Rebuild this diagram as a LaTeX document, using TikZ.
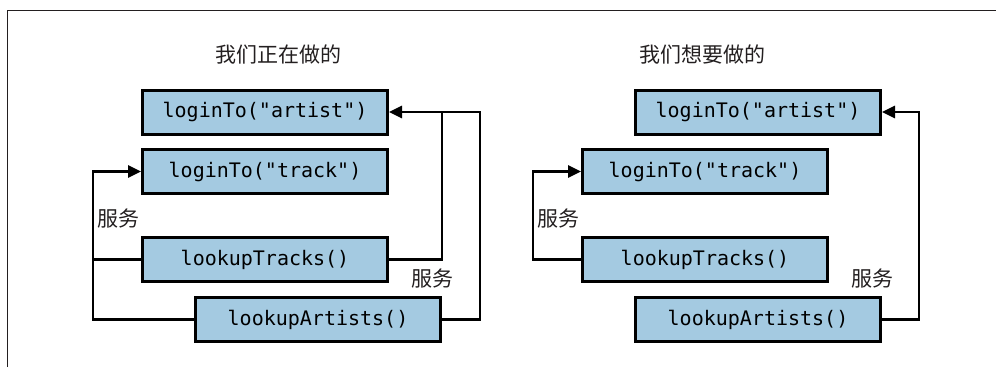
\documentclass[tikz,border=0pt]{standalone}
\usepackage{fontspec}
\setmonofont{DejaVu Sans Mono}
\newfontfamily\cjk{Noto Sans CJK SC}
\usepackage{xcolor}
\usetikzlibrary{calc,arrows.meta,positioning}
\definecolor{boxblue}{RGB}{164,202,225}
\definecolor{inkgray}{RGB}{35,31,32}

\begin{document}
\begin{tikzpicture}[x=1pt,y=1pt,
    call/.style={draw=black,line width=3pt,fill=boxblue,minimum width=245pt,minimum height=44pt,inner sep=0pt,font=\ttfamily\fontsize{20}{20}\selectfont},
    note/.style={inner sep=0pt,text=inkgray,font=\cjk\fontsize{21}{21}\selectfont},
    wire/.style={line width=2.6pt},
    hook/.style={wire,-{Triangle[length=13pt,width=12pt]}}]
        \useasboundingbox (0,0) rectangle (996,-367);

        %frame
        \draw[inkgray,line width=1pt] (7,-367) -- (7,-10) -- (996,-10);

        %left: what we do now
        \node[note] (nowtitle) at (278,-55) {我们正在做的};
        \node[call] (nowartist) at (265,-112) {loginTo("artist")};
        \node[call,below = 12.5pt of nowartist] (nowtrack) {loginTo("track")};
        \node[call,below = 41pt of nowtrack] (nowtracks) {lookupTracks()};
        \node[call,below = 13pt of nowtracks,xshift=53pt] (nowartists) {lookupArtists()};

        \node[note,above left = 8pt and 1pt of nowtracks.north west] (nowsvcl) {服务};
        \node[note,above = 7.5pt of nowartists.north east,xshift=-10pt] (nowsvcr) {服务};

        \coordinate (nowbus) at ($(nowtracks.west)+(-48pt,0)$);
        \draw[hook] (nowartists.west) -| (nowbus) |- (nowtrack.west);
        \draw[wire] (nowtracks.west) -- (nowbus);

        \draw[hook] (nowartists.east) -- ++(38pt,0) |- (nowartist.east);
        \draw[wire] (nowtracks.east) -| (nowartists.east |- nowartist.east);

        %right: what we want
        \node[note] (wanttitle) at (702,-55) {我们想要做的};
        \node[call] (wantartist) at (758,-112) {loginTo("artist")};
        \node[call,below = 12.5pt of wantartist,xshift=-53pt] (wanttrack) {loginTo("track")};
        \node[call,below = 41pt of wanttrack] (wanttracks) {lookupTracks()};
        \node[call,below = 13pt of wanttracks,xshift=53pt] (wantartists) {lookupArtists()};

        \node[note,above left = 8pt and 1pt of wanttracks.north west] (wantsvcl) {服务};
        \node[note,above = 7.5pt of wantartists.north east,xshift=-10pt] (wantsvcr) {服务};

        \draw[hook] (wanttracks.west) -- ++(-48pt,0) |- (wanttrack.west);
        \draw[hook] (wantartists.east) -- ++(37pt,0) |- (wantartist.east);
\end{tikzpicture}
\end{document}
